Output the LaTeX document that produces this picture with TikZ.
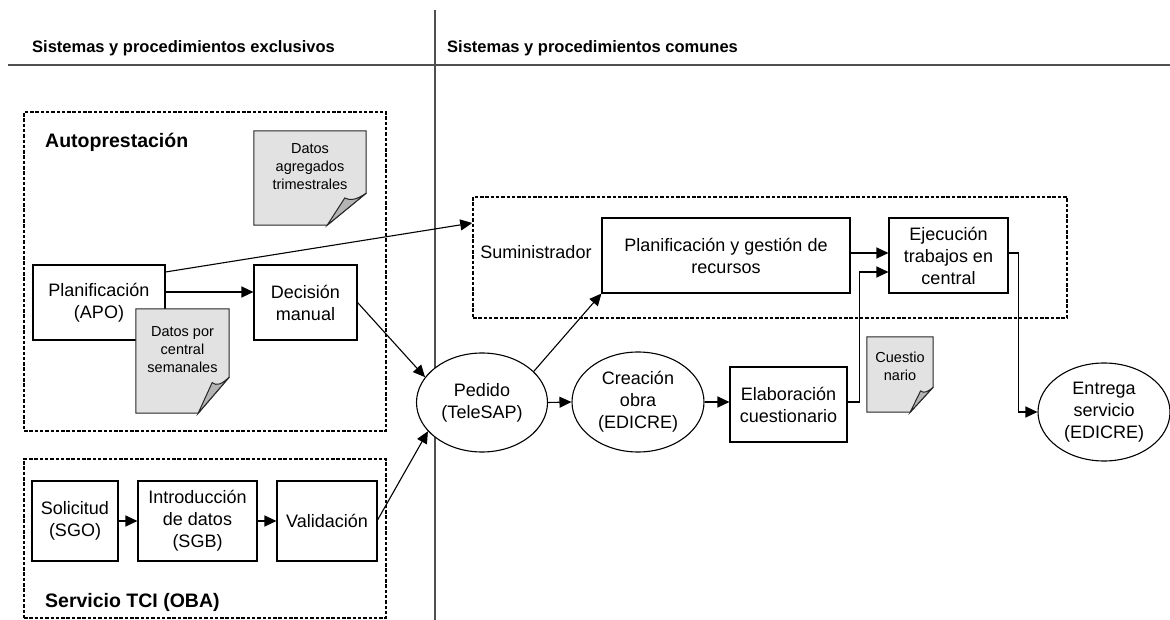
\documentclass[tikz,border=0pt]{standalone}
\usepackage{fontspec}
\setmainfont{Liberation Sans}
\usetikzlibrary{arrows.meta,shapes.geometric,calc}
\definecolor{docfill}{RGB}{226,226,226}
\definecolor{foldfill}{RGB}{180,180,180}
\definecolor{sepcol}{RGB}{80,80,80}
\tikzset{
  body/.style={font=\fontsize{18}{22}\selectfont, align=center},
  boxn/.style={body, draw, line width=1.1pt, fill=white, inner sep=0pt},
  ell/.style={boxn, ellipse},
  grp/.style={draw, line width=1.5pt, dash pattern=on 3.5pt off 1.8pt, inner sep=0pt},
  conn/.style={line width=1.1pt, -{Triangle[length=12pt,width=11pt]}},
  doctxt/.style={font=\fontsize{14.5}{18}\selectfont, align=center, inner sep=0pt},
  docbox/.style={inner sep=0pt},
  docline/.style={line width=1pt, draw=black!85},
  hdr/.style={font=\bfseries\fontsize{16.5}{20}\selectfont, anchor=west, inner sep=0pt},
  lbl/.style={font=\bfseries\fontsize{19.5}{23}\selectfont, anchor=west, inner sep=0pt},
  sepline/.style={line width=1.3pt, draw=sepcol}
}
\newcommand\docshape[3]{%
  \draw[docline, fill=docfill] (#1.north west) -- (#1.north east) -- ($(#1.south east)+(0,-#3)$) -- ($(#1.south east)+(-#2,0)$) -- (#1.south west) -- cycle;
  \draw[docline, fill=foldfill] ($(#1.south east)+(0,-#3)$) .. controls ($(#1.south east)+(-0.25*#2,-0.8*#3)$) and ($(#1.south east)+(-0.4*#2,-0.75*#3)$) .. ($(#1.south east)+(-0.55*#2,-0.85*#3)$) -- ($(#1.south east)+(-#2,0)$) -- cycle;}
\begin{document}
\begin{tikzpicture}[x=1pt,y=-1pt]
\useasboundingbox[fill=white] (0,0) rectangle (1170,620);
% separators
\coordinate (vtop) at (435,10);
\coordinate (vbot) at (435,620);
\coordinate (hl) at (8,65);
\coordinate (hr) at (1170,65);
\draw[sepline] (vtop) -- (vbot);
\draw[sepline] (hl) -- (hr);
\node[hdr] (hdrL) at (32,48) {Sistemas y procedimientos exclusivos};
\node[hdr] (hdrR) at (447,48) {Sistemas y procedimientos comunes};

% group boxes
\node[grp, minimum width=362, minimum height=319] (auto) at (205,271.5) {};
\node[grp, minimum width=362, minimum height=159] (tci) at (205,538.5) {};
\node[grp, minimum width=594, minimum height=121] (sum) at (770,257.5) {};
\node[lbl] (autolbl) at (45,142) {Autoprestación};
\node[lbl] (tcilbl) at (45,602) {Servicio TCI (OBA)};
\node[body, inner sep=0pt] (sumlbl) at (536,252) {Suministrador};

% autoprestacion
\node[docbox, minimum width=112, minimum height=94] (dagr) at (310,178) {};
\docshape{dagr}{39}{32}
\node[doctxt] (dagrt) at (310,167) {Datos\\agregados\\trimestrales};
\node[boxn, minimum width=132, minimum height=75] (planif) at (99,302.5) {Planificación\\(APO)};
\node[boxn, minimum width=103, minimum height=75] (decision) at (305.5,302.5) {Decisión\\manual};
\node[docbox, minimum width=93, minimum height=104] (dpor) at (182.5,361) {};
\docshape{dpor}{31}{36}
\node[doctxt] (dport) at (182.5,350) {Datos por\\central\\semanales};

% servicio TCI
\node[boxn, minimum width=86, minimum height=80] (sol) at (75,521) {Solicitud\\(SGO)};
\node[boxn, minimum width=119, minimum height=80] (intro) at (197.5,521) {Introducción\\de datos\\(SGB)};
\node[boxn, minimum width=100, minimum height=80] (valid) at (327,521) {Validación};

% comunes
\node[boxn, minimum width=248, minimum height=75] (plangest) at (726,255.5) {Planificación y gestión de\\recursos};
\node[boxn, minimum width=119, minimum height=75] (ejec) at (948.5,255.5) {Ejecución\\trabajos en\\central};
\node[ell, minimum width=131, minimum height=99] (pedido) at (482,402.5) {Pedido\\(TeleSAP)};
\node[ell, minimum width=132, minimum height=100] (creacion) at (638,402) {Creación\\obra\\(EDICRE)};
\node[boxn, minimum width=117, minimum height=75] (elab) at (788.5,404.5) {Elaboración\\cuestionario};
\node[docbox, minimum width=66, minimum height=75] (cuest) at (900,374.5) {};
\docshape{cuest}{23}{25}
\node[doctxt] (cuestt) at (900,366.5) {Cuestio\\nario};
\node[ell, minimum width=132, minimum height=98] (entrega) at (1104,412) {Entrega\\servicio\\(EDICRE)};

% connectors
\draw[conn] ([yshift=10.5pt]planif.east) -- ([yshift=10.5pt]decision.west);
\draw[conn] ([yshift=30.5pt]planif.east) -- ([yshift=34.5pt]sum.west);
\draw[conn] (decision.east) -- (pedido.156.7);
\draw[conn] ([yshift=1pt]valid.east) -- (pedido.208.6);
\draw[conn] (sol.east) -- (intro.west);
\draw[conn] (intro.east) -- (valid.west);
\draw[conn] (pedido.31.5) -- (plangest.south west);
\draw[conn] (pedido.east) -- (creacion.west);
\draw[conn] (creacion.east) -- (creacion.east -| elab.west);
\draw[conn] ([yshift=2.5pt]plangest.east) -- ([yshift=2.5pt]ejec.west);
\draw[conn] ([yshift=2.5pt]elab.east) -- ++(12,0) |- ([yshift=-16.5pt]ejec.west);
\draw[conn] ([yshift=2.5pt]ejec.east) -- ++(10,0) |- (entrega.west);
\end{tikzpicture}
\end{document}
